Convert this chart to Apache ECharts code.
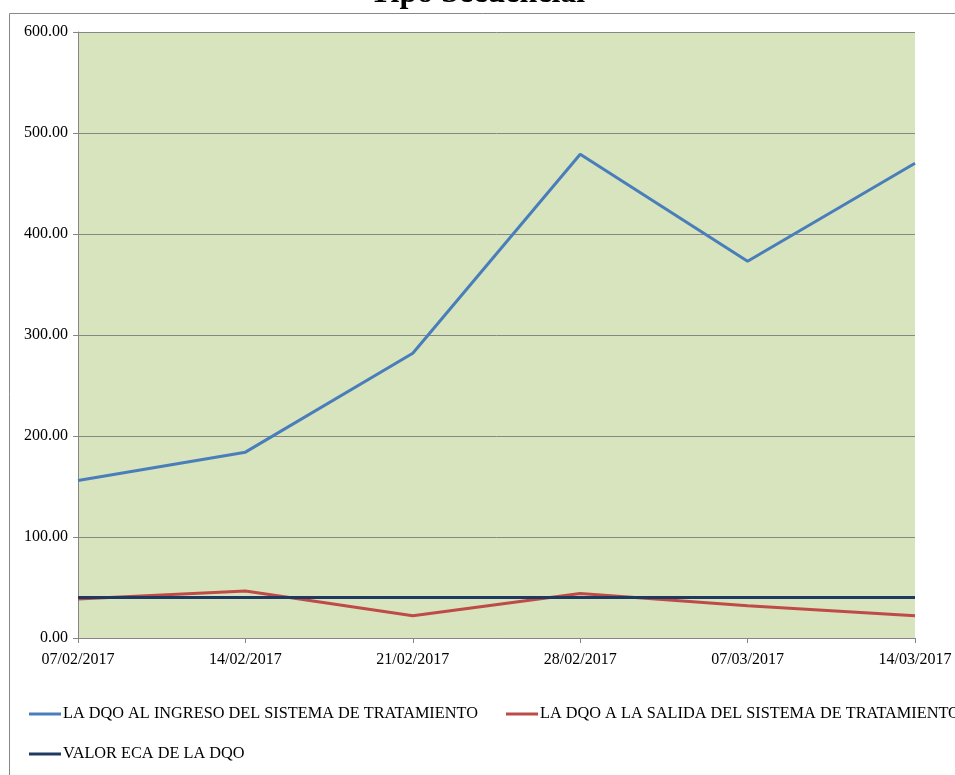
<!DOCTYPE html>
<html><head><meta charset="utf-8">
<script src="https://cdn.jsdelivr.net/npm/echarts@6/dist/echarts.min.js"></script>
<style>html,body{margin:0;padding:0;background:#fff}#c{width:955px;height:775px}</style>
</head><body><div id="c"></div>
<script>
const title = 'Tipo Secuencial';
const categories = ['07/02/2017','14/02/2017','21/02/2017','28/02/2017','07/03/2017','14/03/2017'];
const seriesNames = ['LA DQO AL INGRESO DEL SISTEMA DE TRATAMIENTO','LA DQO A LA SALIDA DEL SISTEMA DE TRATAMIENTO','VALOR ECA DE LA DQO'];
const ingreso = [156, 184, 282, 479, 373, 470];
const salida = [38.5, 46.5, 22, 44, 32, 22];
const eca = [40, 40, 40, 40, 40, 40];
const colors = ['#4a7ebb','#be4b48','#1f3a60'];
const font = 'Liberation Serif, Times New Roman, serif';

const chart = echarts.init(document.getElementById('c'));
function legendItem(name, left, top){
  return {data:[name], left:left, top:top, orient:'horizontal', itemWidth:32, itemHeight:3, itemGap:0,
    icon:'rect', selectedMode:false,
    textStyle:{fontFamily:font, fontSize:16.3, color:'#000', padding:[0,0,0,-3]}};
}
chart.setOption({
  animation:false,
  title:{text:title, left:'center', top:-27, textStyle:{fontFamily:font, fontSize:32, fontWeight:'bold', color:'#000'}},
  graphic:[{type:'rect', shape:{x:9.5, y:13.5, width:1000, height:800}, style:{fill:'none', stroke:'#888', lineWidth:1}, z:-10}],
  legend:[legendItem(seriesNames[0], 24, 701), legendItem(seriesNames[1], 501, 701), legendItem(seriesNames[2], 24, 741)],
  grid:{left:78, top:32, width:837, height:606, show:true, backgroundColor:'#d7e4bd', borderWidth:0},
  xAxis:{type:'category', data:categories, boundaryGap:false,
    axisLine:{lineStyle:{color:'#868686', width:1}},
    axisTick:{show:true, length:5, lineStyle:{color:'#868686'}, alignWithLabel:true},
    axisLabel:{fontFamily:font, fontSize:16, color:'#000', margin:14, showMinLabel:true, showMaxLabel:true, interval:0},
    splitLine:{show:false}},
  yAxis:{type:'value', min:0, max:600, interval:100,
    axisLine:{show:true, lineStyle:{color:'#868686', width:1}},
    axisTick:{show:true, length:5, lineStyle:{color:'#868686'}},
    axisLabel:{fontFamily:font, fontSize:16, color:'#000', margin:10, formatter:v=>v.toFixed(2)},
    splitLine:{lineStyle:{color:'#868686', width:1}}},
  series:[
    {name:seriesNames[0], type:'line', data:ingreso, symbol:'none', lineStyle:{color:colors[0], width:3}, itemStyle:{color:colors[0]}},
    {name:seriesNames[1], type:'line', data:salida, symbol:'none', lineStyle:{color:colors[1], width:3}, itemStyle:{color:colors[1]}},
    {name:seriesNames[2], type:'line', data:eca, symbol:'none', lineStyle:{color:colors[2], width:3}, itemStyle:{color:colors[2]}}
  ]
});
</script></body></html>
